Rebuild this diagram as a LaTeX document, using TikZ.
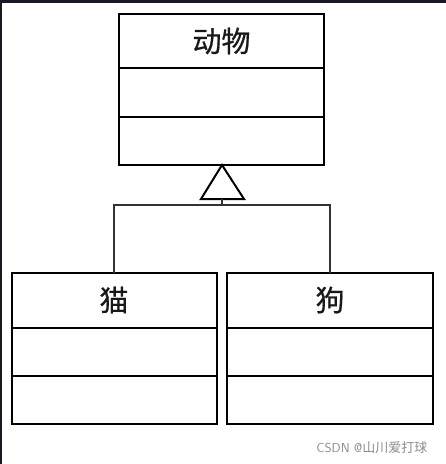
\documentclass[tikz,border=0pt]{standalone}
\usepackage{fontspec}
\newfontfamily\cjk{Noto Sans CJK SC}
\newfontfamily\cjkb[FakeBold=0.6]{Noto Sans CJK SC}
\usetikzlibrary{positioning}
\begin{document}
\begin{tikzpicture}[x=1pt,y=-1pt,
  cls/.style={draw=black,line width=2pt},
  conn/.style={draw=black!80,line width=1.1pt},
  title/.style={font=\cjkb\fontsize{29}{29}\selectfont,text=black!90},
  wmark/.style={font=\sffamily\fontsize{13}{13}\selectfont,text=black!45,anchor=east}
]
\useasboundingbox (0,0) rectangle (446,464);
\fill[white] (0,0) rectangle (446,464);
\fill[black!80!blue!20!black!90] (0,0) rectangle (446,2.5);
\fill[black!80!blue!20!black!90] (0,0) rectangle (2,464);
% top class
\draw[cls] (119,14) rectangle (324,165);
\draw[cls] (119,68) -- (324,68);
\draw[cls] (119,117) -- (324,117);
\node[title] (animal) at (221.5,41) {动物};
% left class
\draw[cls] (12,273) rectangle (217,424);
\draw[cls] (12,328) -- (217,328);
\draw[cls] (12,376) -- (217,376);
\node[title] (cat) at (114,300) {猫};
% right class
\draw[cls] (227,273) rectangle (433,424);
\draw[cls] (227,328) -- (433,328);
\draw[cls] (227,376) -- (433,376);
\node[title] (dog) at (330,300) {狗};
% inheritance
\coordinate (apex) at (222,165);
\coordinate (bl) at (201,199);
\coordinate (br) at (244,199);
\coordinate (basec) at (222,199);
\coordinate (join) at (222,205);
\coordinate (lt) at (114,205);
\coordinate (rt) at (330,205);
\coordinate (lb) at (114,273);
\coordinate (rb) at (330,273);
\draw[cls,line join=miter] (apex) -- (bl) -- (br) -- cycle;
\draw[conn] (basec) -- (join);
\draw[conn] (lb) -- (lt) -- (rt) -- (rb);
\node[wmark] (wm) at (431,448) {CSDN @{\cjk 山川爱打球}};
\end{tikzpicture}
\end{document}
